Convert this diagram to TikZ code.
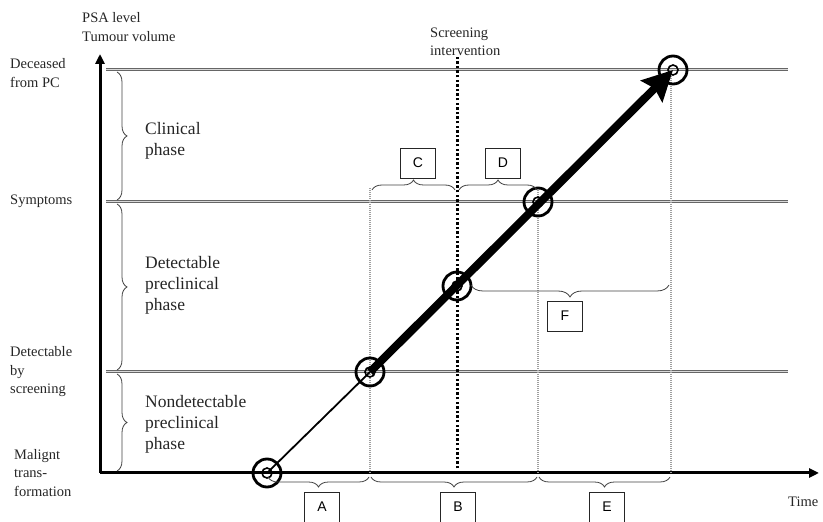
\documentclass[tikz,border=0pt]{standalone}
\usepackage{fontspec}
\setmainfont{Liberation Serif}
\newfontfamily\boxfont{Liberation Sans}
\usetikzlibrary{arrows.meta,decorations.pathreplacing}
\begin{document}
\begin{tikzpicture}[x=1pt,y=1pt,
  lab/.style={align=left, font=\fontsize{14.5}{18.5}\selectfont, inner sep=0pt, anchor=west, text=black!85},
  phase/.style={align=left, font=\fontsize{17.5}{21}\selectfont, inner sep=0pt, anchor=west, text=black!85},
  level/.style={draw=gray!80!black, line width=1pt, double=gray!30, double distance=1pt},
  axis/.style={line width=3pt, -{Triangle[length=10pt,width=9pt]}},
  guide/.style={gray!75, line width=1.6pt, dash pattern=on 1pt off 1pt},
  brc/.style={decorate, decoration={brace, amplitude=10pt}, line width=0.8pt, draw=black!75},
  letter/.style={draw=black!85, line width=0.9pt, minimum width=35pt, minimum height=30pt, inner sep=0pt, font=\boxfont\fontsize{14}{14}\selectfont},
  ring/.style={circle, draw, line width=2.8pt, minimum size=28pt, inner sep=0pt},
  dotc/.style={circle, draw, line width=1.6pt, minimum size=10pt, inner sep=0pt}
]
\useasboundingbox (0,0) rectangle (823,522);

% axes
\coordinate (O) at (100,49);
\coordinate (ytop) at (100,468);
\coordinate (xend) at (819,49);
\draw[axis] (O) -- (ytop);
\draw[axis] (O) -- (xend);

% level lines
\coordinate (dl) at (106,452); \coordinate (dr) at (788,452);
\coordinate (sl) at (106,320); \coordinate (sr) at (788,320);
\coordinate (bl) at (106,150); \coordinate (br) at (788,150);
\draw[level] (dl) -- (dr);
\draw[level] (sl) -- (sr);
\draw[level] (bl) -- (br);

% guides
\coordinate (g1b) at (370,49); \coordinate (g1t) at (370,334);
\coordinate (g2b) at (538,49); \coordinate (g2t) at (538,334);
\coordinate (g3b) at (671,49); \coordinate (g3t) at (671,452);
\draw[guide] (g1b) -- (g1t);
\draw[guide] (g2b) -- (g2t);
\draw[guide] (g3b) -- (g3t);
\coordinate (sib) at (457,49); \coordinate (sit) at (457,465);
\draw[line width=3pt, dash pattern=on 2.4pt off 2.2pt] (sib) -- (sit);

% rings
\node[ring] (c1) at (267,49) {};
\node[ring] (c2) at (370,150) {};
\node[ring] (c3) at (457,236) {};
\node[ring] (c4) at (538,320) {};
\node[ring] (c5) at (673,452) {};
\node[dotc] (c1i) at (c1) {};
\node[dotc] (c2i) at (c2) {};
\node[dotc] (c3i) at (c3) {};
\node[dotc] (c4i) at (c4) {};
\node[dotc] (c5i) at (c5) {};

\draw[line width=1.8pt] (c1.center) -- (c2.center);
\draw[line width=8pt, -{Stealth[length=30pt,width=30pt,inset=4pt]}] (c2.center) -- (c5.center);

% left braces
\draw[brc] (117,450) -- (117,322);
\draw[brc] (117,318) -- (117,152);
\draw[brc] (117,148) -- (117,51);

% bottom braces
\draw[brc] (369,45) -- (268,45);
\draw[brc] (537,45) -- (371,45);
\draw[brc] (670,45) -- (539,45);

% upper braces
\draw[brc] (372,332) -- (455,332);
\draw[brc] (459,332) -- (537,332);
\draw[brc, decoration={brace, amplitude=12pt}] (669,237) -- (471,237);

% letter boxes
\node[letter] (A) at (322,15) {A};
\node[letter] (B) at (458,15) {B};
\node[letter] (E) at (607,15) {E};
\node[letter] (C) at (418,359) {C};
\node[letter] (D) at (503,359) {D};
\node[letter] (F) at (565,206) {F};

% labels
\node[lab] (psa) at (82,495) {PSA level\\Tumour volume};
\node[lab] (dec) at (10,449) {Deceased\\from PC};
\node[lab] (sym) at (10,321) {Symptoms};
\node[lab] (dbs) at (10,150) {Detectable\\by\\screening};
\node[lab] (mal) at (14,49) {Malignt\\trans-\\formation};
\node[lab] (scr) at (430,480) {Screening\\intervention};
\node[lab] (time) at (788,20) {Time};

\node[phase] (clin) at (145,381) {Clinical\\phase};
\node[phase] (dpp) at (145,237) {Detectable\\preclinical\\phase};
\node[phase] (npp) at (145,98) {Nondetectable\\preclinical\\phase};
\end{tikzpicture}
\end{document}
